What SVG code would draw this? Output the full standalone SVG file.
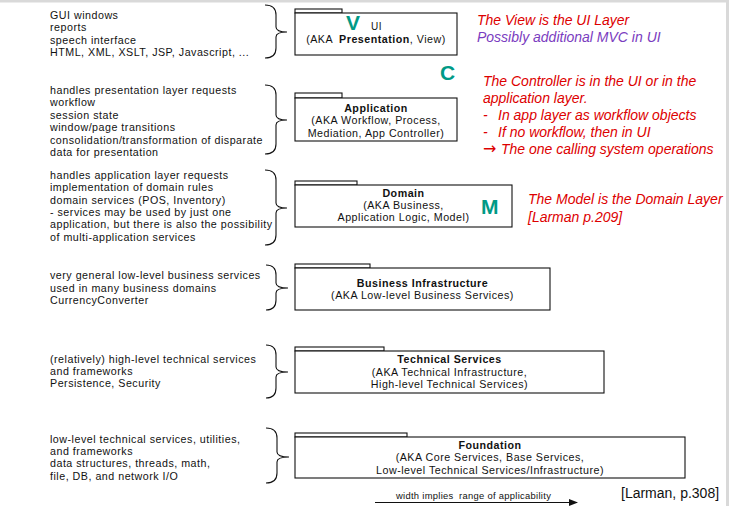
<svg xmlns="http://www.w3.org/2000/svg" width="729" height="506" viewBox="0 0 729 506">
<style>
.t{font-family:"Liberation Sans",Arial,sans-serif;font-size:10.7px;letter-spacing:0.5px;fill:#111}
.c{text-anchor:middle}
.b{font-weight:bold}
.box{fill:#fff;stroke:#111;stroke-width:1.1}
.br{fill:none;stroke:#111;stroke-width:1.1}
.r{font-family:"Liberation Sans",Arial,sans-serif;font-size:14px;font-style:italic;fill:#dd0000}
.p{fill:#7a3cc0}
.big{font-family:"Liberation Sans",Arial,sans-serif;font-size:21px;font-weight:bold;fill:#009a86}
.arr{font-family:"DejaVu Sans",sans-serif;font-style:normal;font-size:16px}
</style>
<defs>
<marker id="ah" markerWidth="9" markerHeight="7" refX="8" refY="3.5" orient="auto" markerUnits="userSpaceOnUse">
<path d="M0,0 L9,3.5 L0,7 Z" fill="#111"/>
</marker>
</defs>
<rect x="0" y="0" width="729" height="506" fill="#fff"/>
<rect x="0" y="0" width="729" height="2.5" fill="#d9d9d9"/>
<rect x="726" y="0" width="3" height="506" fill="#d9d9d9"/>

<g id="connectors">
<path class="br" d="M265,5 Q276,5 276,15 L276,27 Q276,32 287,32 Q276,32 276,37 L276,48 Q276,58 265,58"/>
<path class="br" d="M265,85 Q276,85 276,95 L276,115 Q276,120 287,120 Q276,120 276,125 L276,144 Q276,154 265,154"/>
<path class="br" d="M265,170 Q276,170 276,180 L276,203 Q276,208 287,208 Q276,208 276,213 L276,235 Q276,245 265,245"/>
<path class="br" d="M266,265 Q276,265 276,275 L276,283 Q276,288 288,288 Q276,288 276,293 L276,300 Q276,310 266,310"/>
<path class="br" d="M266,345 Q276,345 276,355 L276,367 Q276,372 288,372 Q276,372 276,377 L276,388 Q276,398 266,398"/>
<path class="br" d="M266,428 Q277,428 277,438 L277,452 Q277,457 289,457 Q277,457 277,462 L277,473 Q277,483 266,483"/>
<line x1="375" y1="502.5" x2="577" y2="502.5" stroke="#111" stroke-width="1.1" marker-end="url(#ah)"/>
</g>

<g id="desc-ui">
<text class="t" x="50" y="19">GUI windows</text>
<text class="t" x="50" y="31.3">reports</text>
<text class="t" x="50" y="43.6">speech interface</text>
<text class="t" x="50" y="56">HTML, XML, XSLT, JSP, Javascript, ...</text>
</g>
<g id="desc-app">
<text class="t" x="50" y="94">handles presentation layer requests</text>
<text class="t" x="50" y="106.4">workflow</text>
<text class="t" x="50" y="118.8">session state</text>
<text class="t" x="50" y="131.2">window/page transitions</text>
<text class="t" x="50" y="143.6">consolidation/transformation of disparate</text>
<text class="t" x="50" y="156">data for presentation</text>
</g>
<g id="desc-domain">
<text class="t" x="50" y="179">handles application layer requests</text>
<text class="t" x="50" y="191.3">implementation of domain rules</text>
<text class="t" x="50" y="203.6">domain services (POS, Inventory)</text>
<text class="t" x="50" y="215.9">- services may be used by just one</text>
<text class="t" x="50" y="228.2">application, but there is also the possibility</text>
<text class="t" x="50" y="240.5">of multi-application services</text>
</g>
<g id="desc-bi">
<text class="t" x="50" y="279">very general low-level business services</text>
<text class="t" x="50" y="291.5">used in many business domains</text>
<text class="t" x="50" y="304">CurrencyConverter</text>
</g>
<g id="desc-ts">
<text class="t" x="50" y="363">(relatively) high-level technical services</text>
<text class="t" x="50" y="375.2">and frameworks</text>
<text class="t" x="50" y="387.4">Persistence, Security</text>
</g>
<g id="desc-found">
<text class="t" x="50" y="443">low-level technical services, utilities,</text>
<text class="t" x="50" y="455.2">and frameworks</text>
<text class="t" x="50" y="467.4">data structures, threads, math,</text>
<text class="t" x="50" y="479.6">file, DB, and network I/O</text>
</g>

<g id="pkg-ui">
<rect class="box" x="295" y="9" width="47" height="4"/>
<rect class="box" x="295" y="13" width="162" height="42"/>
<text class="big" x="346" y="30">V</text>
<text class="t" x="371" y="30" style="font-size:10px">UI</text>
<text class="t c" x="376" y="43">(AKA<tspan class="b" dx="6">Presentation</tspan>, View)</text>
</g>
<g id="pkg-app">
<rect class="box" x="295" y="93" width="47" height="5"/>
<rect class="box" x="295" y="98" width="162" height="43"/>
<text class="t c b" x="376" y="112">Application</text>
<text class="t c" x="376" y="124.4">(AKA Workflow, Process,</text>
<text class="t c" x="376" y="136.8">Mediation, App Controller)</text>
</g>
<g id="pkg-domain">
<rect class="box" x="295" y="181" width="62" height="4"/>
<rect class="box" x="295" y="185" width="217" height="42"/>
<text class="t c b" x="403.5" y="197">Domain</text>
<text class="t c" x="403.5" y="209.2">(AKA Business,</text>
<text class="t c" x="403.5" y="221.4">Application Logic, Model)</text>
<text class="big" x="481" y="214">M</text>
</g>
<g id="pkg-bi">
<rect class="box" x="295" y="264" width="75" height="4"/>
<rect class="box" x="295" y="268" width="255" height="42"/>
<text class="t c b" x="422.5" y="287">Business Infrastructure</text>
<text class="t c" x="422.5" y="299.3">(AKA Low-level Business Services)</text>
</g>
<g id="pkg-ts">
<rect class="box" x="295" y="347" width="89" height="4"/>
<rect class="box" x="295" y="351" width="309" height="42"/>
<text class="t c b" x="449.5" y="363">Technical Services</text>
<text class="t c" x="449.5" y="375.5">(AKA Technical Infrastructure,</text>
<text class="t c" x="449.5" y="388">High-level Technical Services)</text>
</g>
<g id="pkg-found">
<rect class="box" x="295" y="433" width="112" height="4"/>
<rect class="box" x="295" y="437" width="390" height="41"/>
<text class="t c b" x="490" y="448.5">Foundation</text>
<text class="t c" x="490" y="461">(AKA Core Services, Base Services,</text>
<text class="t c" x="490" y="473.5">Low-level Technical Services/Infrastructure)</text>
</g>

<g id="note-view">
<text class="r" x="477" y="25">The View is the UI Layer</text>
<text class="r p" x="477" y="42">Possibly additional MVC in UI</text>
</g>
<g id="note-controller">
<text class="big" x="440" y="80">C</text>
<text class="r" x="483" y="86">The Controller is in the UI or in the</text>
<text class="r" x="483" y="103">application layer.</text>
<text class="r" x="483" y="120">-<tspan x="498">In app layer as workflow objects</tspan></text>
<text class="r" x="483" y="137">-<tspan x="498">If no workflow, then in UI</tspan></text>
<text class="r" x="483" y="153.5"><tspan class="arr">→</tspan><tspan x="501">The one calling system operations</tspan></text>
</g>
<g id="note-model">
<text class="r" x="528" y="204">The Model is the Domain Layer</text>
<text class="r" x="528" y="222">[Larman p.209]</text>
</g>
<g id="footer">
<text class="t" x="396" y="499" style="font-size:9.4px;letter-spacing:0.3px">width implies<tspan dx="5.5">range of applicability</tspan></text>
<text class="t" x="621" y="498" style="font-size:14px;letter-spacing:0">[Larman, p.308]</text>
</g>
</svg>
